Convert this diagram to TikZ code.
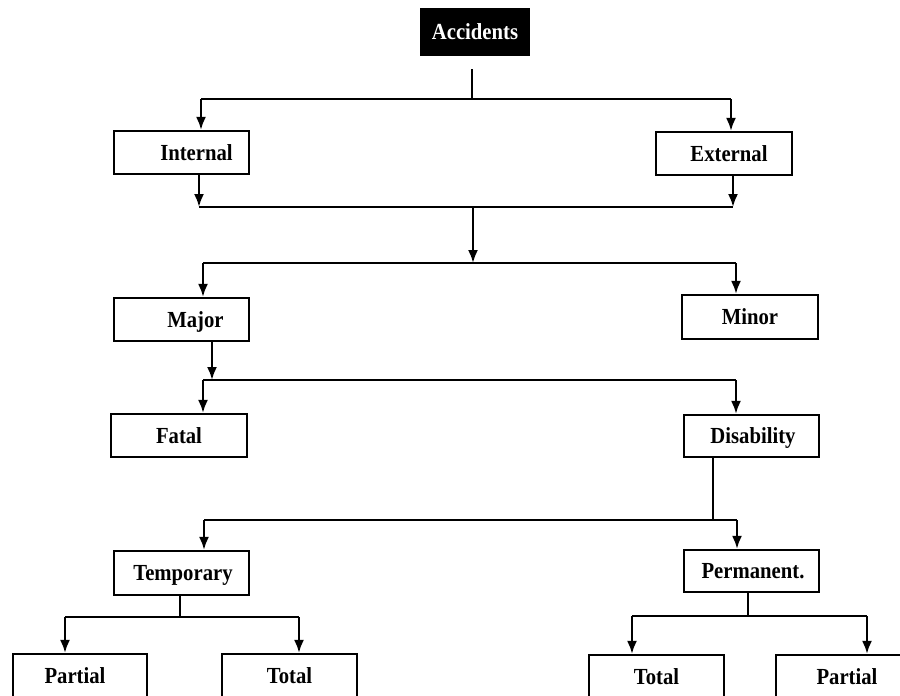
\documentclass[tikz,border=0pt]{standalone}
\usepackage{fontspec}
\setmainfont{Liberation Serif}
\newfontfamily\boxfont{Liberation Serif}[FakeStretch=0.9]
\usetikzlibrary{arrows.meta}
\begin{document}
\begin{tikzpicture}[x=1pt,y=-1pt,
  box/.style={draw, line width=2.2pt, minimum width=135pt, minimum height=43pt,
    inner sep=0pt, text height=15pt, text depth=0pt,
    font=\boxfont\fontsize{23}{27}\selectfont\bfseries},
  link/.style={line width=2.2pt},
  arr/.style={link, -{Latex[length=13pt,width=10pt]}}]
\clip (0,0) rectangle (900,696);
\fill[white] (0,0) rectangle (900,696);

% boxes
\node[box, fill=black, text=white, minimum width=108pt, minimum height=46pt] (acc) at (475,32) {Accidents};
\node[box] (int) at (181.5,152.5) {\hspace*{30pt}Internal};
\node[box, minimum width=136pt] (ext) at (724,153.5) {\hspace*{10pt}External};
\node[box] (maj) at (181.5,319.5) {\hspace*{28pt}Major};
\node[box, minimum width=136pt, minimum height=44pt] (mnr) at (750,317) {Minor};
\node[box, minimum width=136pt] (fat) at (179,435.5) {Fatal};
\node[box, minimum height=42pt] (dis) at (751.5,436) {\hspace*{3pt}Disability};
\node[box, minimum height=44pt] (tmp) at (181.5,573) {\hspace*{3pt}Temporary};
\node[box, minimum height=42pt] (prm) at (751.5,571) {\hspace*{3pt}Permanent.};
\node[box, minimum width=134pt] (ptl) at (80,675.5) {\hspace*{-10pt}Partial};
\node[box] (ttl) at (289.5,675.5) {Total};
\node[box] (ttr) at (656.5,676.5) {Total};
\node[box] (ptr) at (843.5,676.5) {\hspace*{7pt}Partial};

% junction points
\coordinate (j1) at (472,99);
\coordinate (h1L) at (201,99);
\coordinate (h1R) at (731,99);
\coordinate (h2L) at (199,207);
\coordinate (h2R) at (733,207);
\coordinate (j2) at (473,207);
\coordinate (j3) at (473,263);
\coordinate (h3L) at (203,263);
\coordinate (h3R) at (736,263);
\coordinate (j4) at (212,380);
\coordinate (h4L) at (203,380);
\coordinate (h4R) at (736,380);
\coordinate (j5) at (713,520);
\coordinate (h5L) at (204,520);
\coordinate (h5R) at (737,520);
\coordinate (j6) at (180,617);
\coordinate (h6L) at (65,617);
\coordinate (h6R) at (299,617);
\coordinate (j7) at (748,616);
\coordinate (h7L) at (632,616);
\coordinate (h7R) at (867,616);

% Accidents -> Internal / External
\draw[link, shorten <=13pt] (acc.south -| j1) -- (j1);
\draw[link] (h1L) -- (h1R);
\draw[arr] (h1L) -- (int.north -| h1L);
\draw[arr] (h1R) -- (ext.north -| h1R);

% Internal / External -> Major / Minor
\draw[arr] (int.south -| h2L) -- (h2L);
\draw[arr] (ext.south -| h2R) -- (h2R);
\draw[link] (h2L) -- (h2R);
\draw[arr] (j2) -- (j3);
\draw[link] (h3L) -- (h3R);
\draw[arr] (h3L) -- (maj.north -| h3L);
\draw[arr] (h3R) -- (mnr.north -| h3R);

% Major -> Fatal / Disability
\draw[arr] (maj.south -| j4) -- (j4);
\draw[link] (h4L) -- (h4R);
\draw[arr] (h4L) -- (fat.north -| h4L);
\draw[arr] (h4R) -- (dis.north -| h4R);

% Disability -> Temporary / Permanent
\draw[link] (dis.south -| j5) -- (j5);
\draw[link] (h5L) -- (h5R);
\draw[arr] (h5L) -- (tmp.north -| h5L);
\draw[arr] (h5R) -- (prm.north -| h5R);

% Temporary -> Partial / Total
\draw[link] (tmp.south -| j6) -- (j6);
\draw[link] (h6L) -- (h6R);
\draw[arr] (h6L) -- (ptl.north -| h6L);
\draw[arr] (h6R) -- (ttl.north -| h6R);

% Permanent -> Total / Partial
\draw[link] (prm.south -| j7) -- (j7);
\draw[link] (h7L) -- (h7R);
\draw[arr] (h7L) -- (ttr.north -| h7L);
\draw[arr] (h7R) -- (ptr.north -| h7R);
\end{tikzpicture}
\end{document}
